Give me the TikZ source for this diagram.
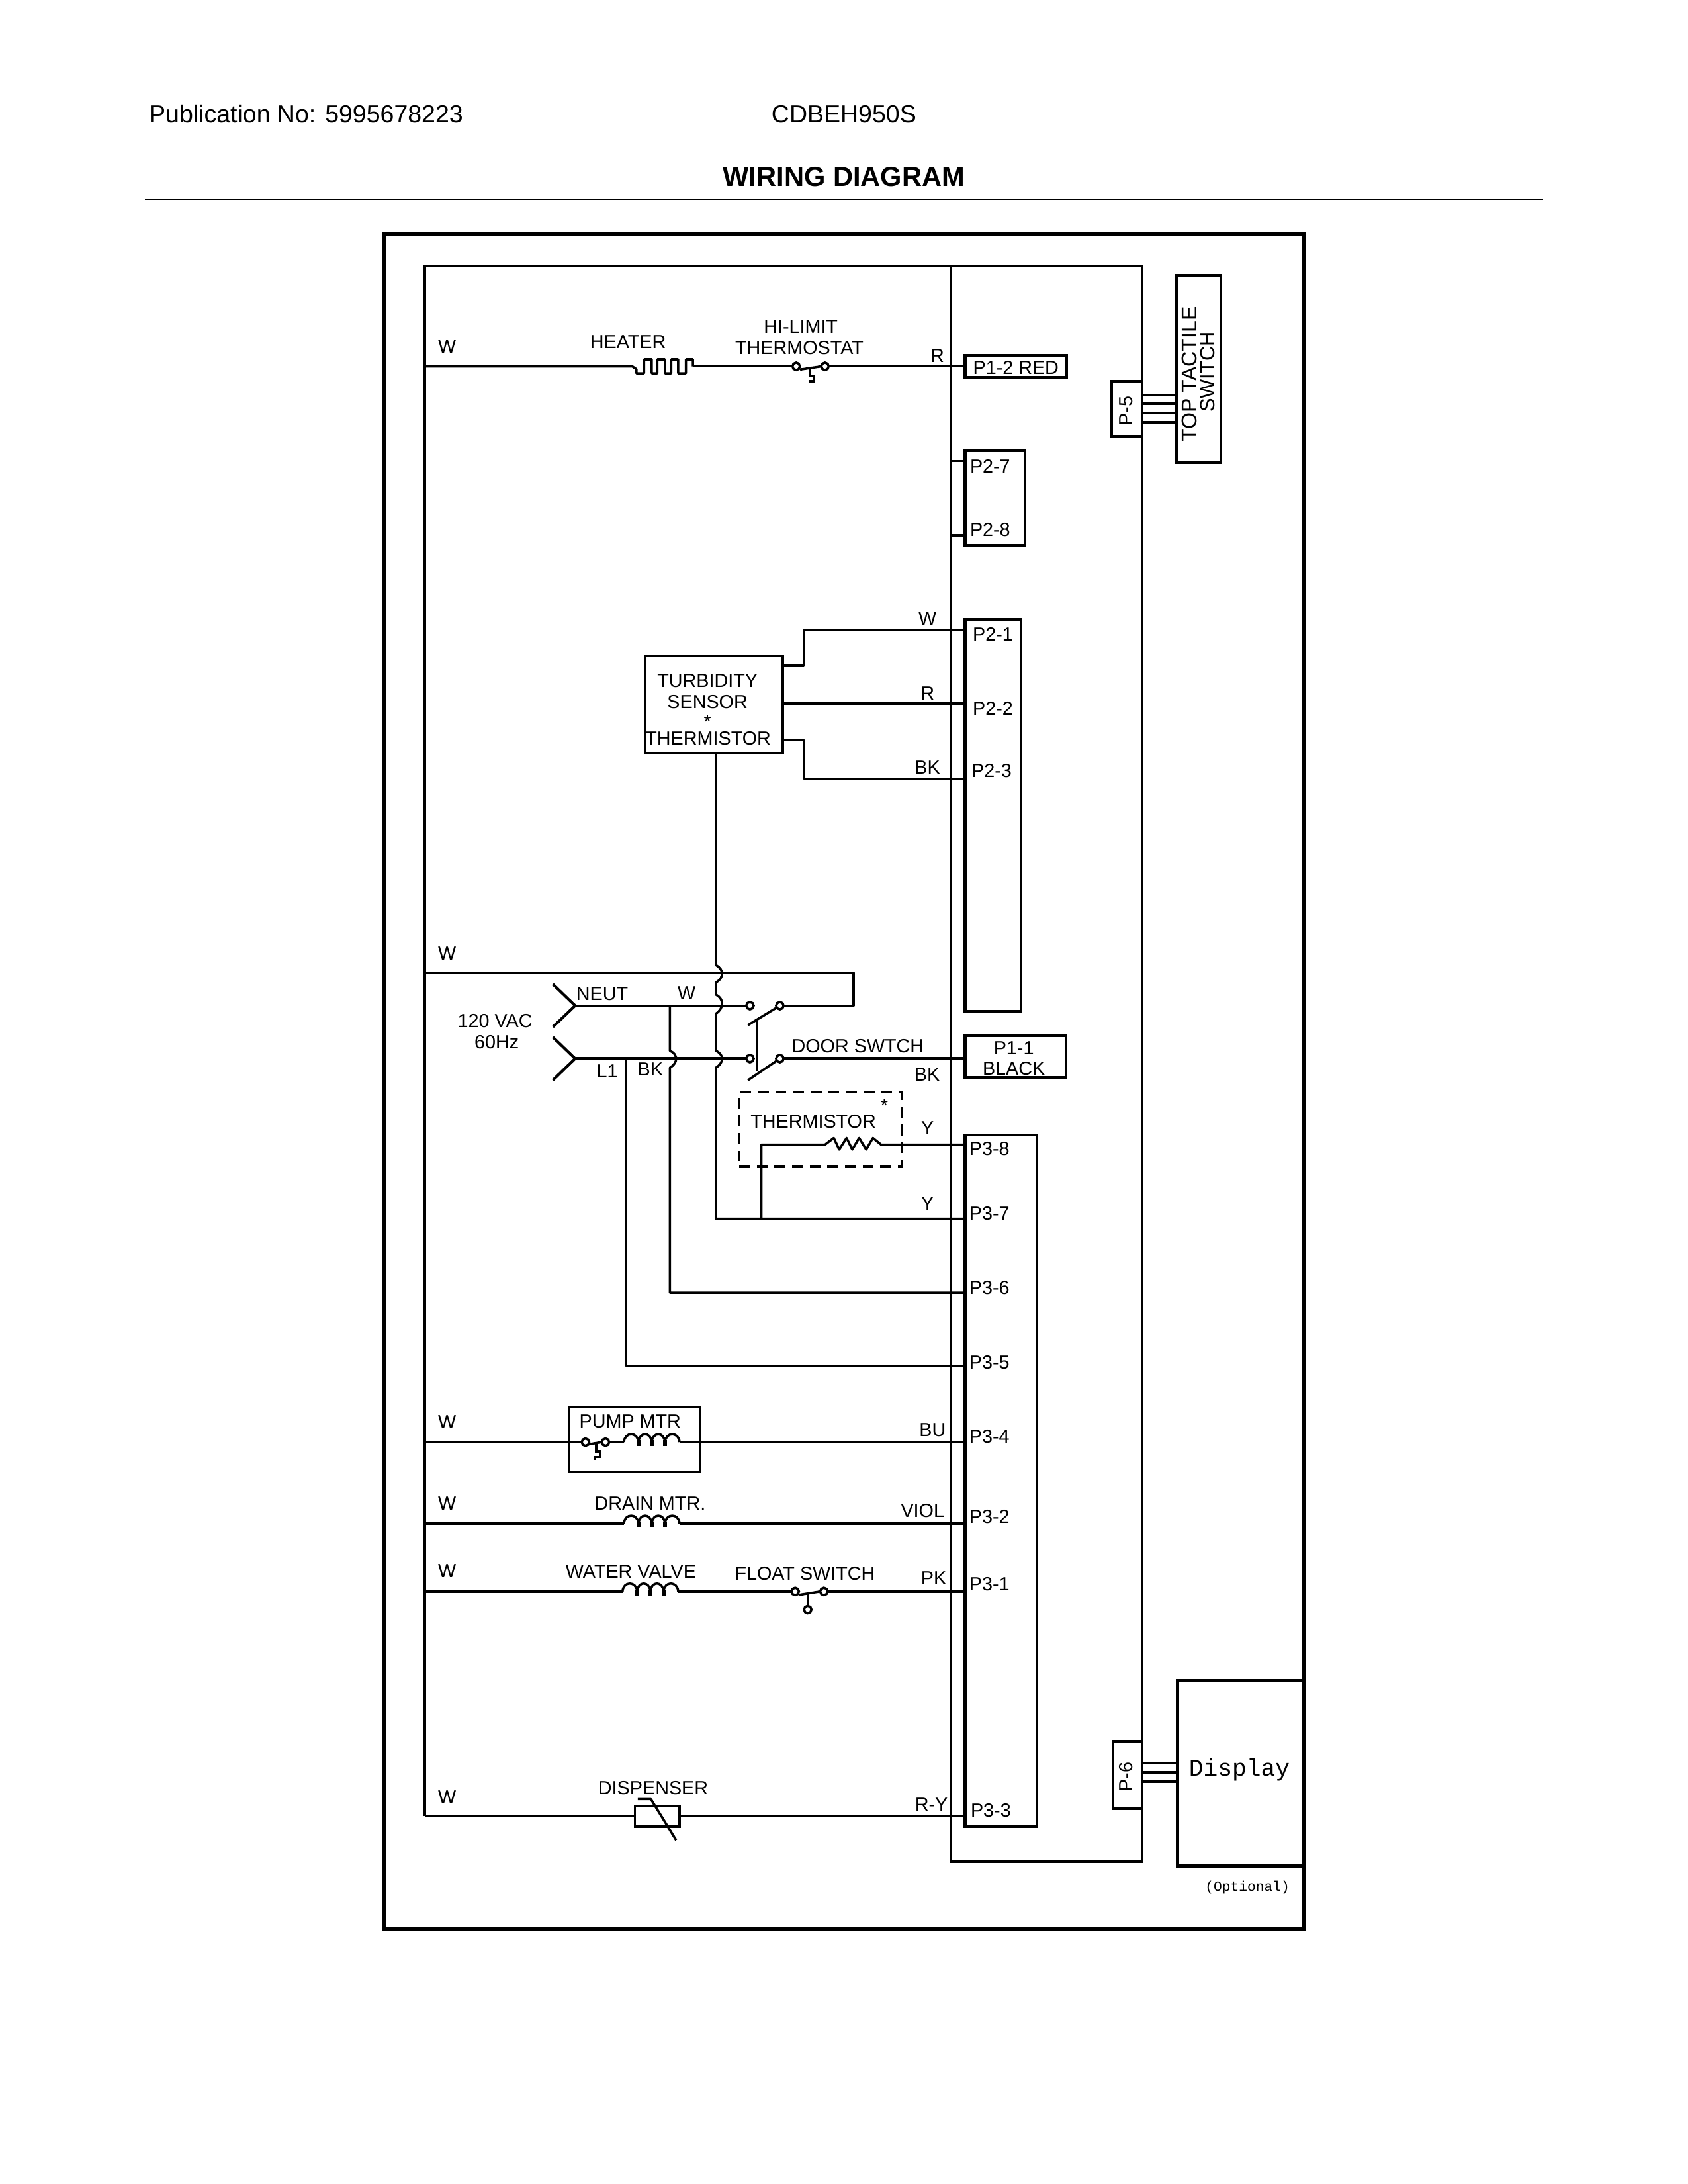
\documentclass[tikz,border=0pt]{standalone}
\usepackage{fontspec}
\setmainfont{Liberation Sans}
\newfontfamily\monof{Liberation Mono}
\usetikzlibrary{fit}
\tikzset{
  wire/.style={line width=0.85bp,line join=round},
  frameline/.style={line width=1.3bp,line join=miter},
  boardline/.style={line width=0.95bp,line join=miter},
  pinbox/.style={draw,line width=1bp,inner sep=0pt,outer sep=0pt,rectangle},
  thinbox/.style={draw,line width=0.85bp,inner sep=0pt,outer sep=0pt,rectangle},
  lbl/.style={inner sep=0pt,outer sep=0pt,font=\fontsize{6.9bp}{8bp}\selectfont},
  pinlbl/.style={lbl},
  hdr/.style={inner sep=0pt,outer sep=0pt,font=\fontsize{9bp}{11bp}\selectfont},
  contact/.style={circle,draw,line width=0.85bp,fill=white,inner sep=0pt,outer sep=0pt,minimum size=2.7bp},
}
\newcommand{\mkbox}[6]{\coordinate (#2a) at (#3,#4); \coordinate (#2b) at (#5,#6); \node[#1,fit=(#2a)(#2b)] (#2) {};}
% coil from x #1 on wire y #2: four humps, three ticks
\newcommand{\coilsym}[2]{%
  \draw[wire] (#1,#2) .. controls ({#1+0.5},{#2-7.6}) and ({#1+10},{#2-7.6}) .. ({#1+10.5},#2)
    .. controls ({#1+11},{#2-7.6}) and ({#1+19.5},{#2-7.6}) .. ({#1+20},#2)
    .. controls ({#1+20.5},{#2-7.6}) and ({#1+29},{#2-7.6}) .. ({#1+29.5},#2)
    .. controls ({#1+30},{#2-7.6}) and ({#1+39.5},{#2-7.6}) .. ({#1+40},#2);
  \foreach \k in {10.5,20,29.5}{\draw[line width=1.5bp] ({#1+\k},{#2-1.5}) -- ({#1+\k},{#2+3});}
}
\begin{document}
\begin{tikzpicture}[x=0.50510bp,y=-0.50510bp]
\useasboundingbox (0,0) rectangle (1211.7,1568);
% header
\node[hdr,anchor=west] (pub) at (107,82) {Publication No: 5995678223};
\node[hdr] (model) at (606,82) {CDBEH950S};
\node[inner sep=0pt,font=\fontsize{10bp}{12bp}\selectfont\bfseries] (title) at (606,127) {WIRING DIAGRAM};
\coordinate (ruleL) at (104,143); \coordinate (ruleR) at (1108,143);
\draw[line width=0.6bp] (ruleL) -- (ruleR);
% frames
\mkbox{draw,line width=1.3bp,inner sep=0pt,outer sep=0pt,rectangle}{outer}{276}{168}{936}{1385}
\coordinate (busTL) at (305,191); \coordinate (brdTR) at (820,191); \coordinate (brdTM) at (683,191);
\coordinate (brdBR) at (820,1336.5); \coordinate (brdBM) at (683,1336.5); \coordinate (busB) at (305,1304);
\draw[boardline] (busB) -- (busTL) -- (brdTR) -- (brdBR) -- (brdBM) -- (brdTM);
% connector boxes
\mkbox{pinbox}{Ptwelve}{693}{255}{766}{271}
\mkbox{pinbox}{Ptwoa}{693}{323.5}{736}{391.5}
\mkbox{pinbox}{Ptwob}{693}{445}{733}{726}
\mkbox{pinbox}{Pone}{693}{743.5}{765.5}{773.4}
\mkbox{pinbox}{Pthree}{693}{815}{744.5}{1311.5}
\mkbox{pinbox}{Pfive}{798}{273.6}{820}{313.5}
\mkbox{pinbox}{Psix}{799}{1250}{820}{1298.5}
\mkbox{pinbox}{Tact}{845}{197.8}{876.5}{332}
\mkbox{draw,line width=1.3bp,inner sep=0pt,outer sep=0pt,rectangle}{Disp}{845.5}{1206.6}{935.8}{1339.8}
\mkbox{thinbox}{Turb}{463.5}{471}{562}{541}
\mkbox{thinbox}{Pump}{408.6}{1010.4}{502.7}{1056.5}
\mkbox{draw,line width=1bp,dash pattern=on 4bp off 2.4bp,inner sep=0pt,outer sep=0pt,rectangle}{Thm}{530.8}{784}{647.6}{837.7}
% labels in boxes
\node[lbl] (t12) at (729.5,264) {P1-2 RED};
\node[pinlbl] (t27) at (711,334.5) {P2-7};
\node[pinlbl] (t28) at (711,380.5) {P2-8};
\node[pinlbl] (t21) at (713,455.5) {P2-1};
\node[pinlbl] (t22) at (713,508.5) {P2-2};
\node[pinlbl] (t23) at (712,553.5) {P2-3};
\node[pinlbl] (t38) at (710.5,824.5) {P3-8};
\node[pinlbl] (t37) at (710.5,871) {P3-7};
\node[pinlbl] (t36) at (710.5,924.5) {P3-6};
\node[pinlbl] (t35) at (710.5,978) {P3-5};
\node[pinlbl] (t34) at (710.5,1031.5) {P3-4};
\node[pinlbl] (t32) at (710.5,1089) {P3-2};
\node[pinlbl] (t31) at (710.5,1137.5) {P3-1};
\node[pinlbl] (t33) at (711.5,1300) {P3-3};
\node[lbl] (t11a) at (728,752.5) {P1-1};
\node[lbl] (t11b) at (728,767) {BLACK};
\node[lbl,rotate=90] (tP5) at (808.5,295) {P-5};
\node[lbl,rotate=90] (tP6) at (808.5,1275.7) {P-6};
\node[inner sep=0pt,rotate=90,font=\fontsize{7.7bp}{9bp}\selectfont] (tTop) at (854,268.7) {TOP TACTILE};
\node[inner sep=0pt,rotate=90,font=\fontsize{7.4bp}{9bp}\selectfont] (tSw) at (867,267) {SWITCH};
\node[inner sep=0pt,font=\monof\fontsize{8.7bp}{10bp}\selectfont] (tDisp) at (890,1270.5) {Display};
\node[inner sep=0pt,font=\monof\fontsize{5.1bp}{6bp}\selectfont] (tOpt) at (895.7,1355) {(Optional)};
% labels
\node[lbl] (w1) at (321,249) {W};
\node[lbl] (heat) at (451,245.5) {HEATER};
\node[lbl] (hil) at (575,234.5) {HI-LIMIT};
\node[lbl] (ths) at (574,249.5) {THERMOSTAT};
\node[lbl] (r1) at (673,255.5) {R};
\node[lbl] (w2) at (666,444) {W};
\node[lbl] (r2) at (666,498) {R};
\node[lbl] (bk2) at (666,551) {BK};
\node[lbl] (tb1) at (508,489) {TURBIDITY};
\node[lbl] (tb2) at (508,504) {SENSOR};
\node[lbl] (tb3) at (508,518) {*};
\node[lbl] (tb4) at (508.5,530) {THERMISTOR};
\node[lbl] (w3) at (321,684.5) {W};
\node[lbl] (neut) at (432.4,713.6) {NEUT};
\node[lbl] (w4) at (493,713) {W};
\node[lbl] (vac) at (355.5,733) {120 VAC};
\node[lbl] (hz) at (356.7,748) {60Hz};
\node[lbl] (l1) at (436,769) {L1};
\node[lbl] (bk3) at (467,767.5) {BK};
\node[lbl] (door) at (616,751) {DOOR SWTCH};
\node[lbl] (bk4) at (665.7,771.5) {BK};
\node[lbl] (thm) at (584,805) {THERMISTOR};
\node[lbl] (st) at (635,794) {*};
\node[lbl] (y1) at (666,810) {Y};
\node[lbl] (y2) at (666,864) {Y};
\node[lbl] (w5) at (321,1021) {W};
\node[lbl] (pm) at (452.5,1020.6) {PUMP MTR};
\node[lbl] (bu) at (669.7,1026.5) {BU};
\node[lbl] (w6) at (321,1079.5) {W};
\node[lbl] (dm) at (466.8,1079.5) {DRAIN MTR.};
\node[lbl] (viol) at (662.5,1084.8) {VIOL};
\node[lbl] (w7) at (321,1128) {W};
\node[lbl] (wv) at (453,1128.5) {WATER VALVE};
\node[lbl] (fs) at (578,1129.5) {FLOAT SWITCH};
\node[lbl] (pk) at (670.5,1133) {PK};
\node[lbl] (w8) at (321,1290.5) {W};
\node[lbl] (dsp) at (469,1283.5) {DISPENSER};
\node[lbl] (ry) at (668.8,1295.5) {R-Y};
% --- heater line
\coordinate (hA) at (305,263); \coordinate (hB) at (454,263); \coordinate (hC) at (497.5,263);
\draw[wire] (hA) -- (hB) -- (457,265) -- (457,268) -- (462.5,268) -- (462.5,258) -- (468,258) -- (468,268) -- (472,268) -- (472,258) -- (477.5,258) -- (477.5,268) -- (482,268) -- (482,258) -- (487,258) -- (487,268) -- (492.5,268) -- (492.5,258) -- (497.5,258) -- (hC);
\node[contact] (hs1) at (571.7,263) {};
\node[contact] (hs2) at (592.4,263) {};
\draw[wire] (hC) -- (hs1);
\draw[wire] (hs2) -- (Ptwelve.west |- hs2);
\draw[wire] (574.5,265.3) -- (hs2.west);
\draw[wire,line join=miter] (581.3,264.5) -- (581.3,269.8) -- (584.4,269.8) -- (584.4,273.6) -- (580.4,273.6);
% P2-7, 8 stubs
\coordinate (s27) at (683,331); \coordinate (s28) at (683,384.5);
\draw[wire] (s27) -- (Ptwoa.west |- s27);
\draw[wire] (s28) -- (Ptwoa.west |- s28);
% turbidity
\coordinate (tA) at (562,478); \coordinate (tAk) at (577,478); \coordinate (tAt) at (577,452);
\draw[wire] (tA) -- (tAk) -- (tAt) -- (Ptwob.west |- tAt);
\coordinate (tR) at (562,505);
\draw[wire] (tR) -- (Ptwob.west |- tR);
\coordinate (tC) at (562,531); \coordinate (tCk) at (577,531); \coordinate (tCt) at (577,559);
\draw[wire] (tC) -- (tCk) -- (tCt) -- (Ptwob.west |- tCt);
% Y wire from turbidity with bumps
\coordinate (yTop) at (514,541); \coordinate (yBot) at (514,875); \coordinate (p37) at (693,875);
\draw[wire] (yTop) -- (514,692.8) .. controls (520,696) and (520,702) .. (514,705.5) -- (514,714) .. controls (520,717) and (520,724) .. (514,727.8) -- (514,754.3) .. controls (520,757) and (520,763) .. (514,766.6) -- (yBot) -- (p37);
% neutral
\coordinate (nBusL) at (305,698.5); \coordinate (nR) at (613,698.5); \coordinate (nD) at (613,722);
\node[contact] (sw1a) at (538.5,722) {};
\node[contact] (sw1b) at (560,722) {};
\node[contact] (sw2a) at (538.5,760) {};
\node[contact] (sw2b) at (560,760) {};
\draw[wire] (nBusL) -- (nR) -- (nD) -- (sw1b);
\coordinate (plN) at (413,722); \coordinate (plL) at (413,760);
\draw[wire,line width=1bp] (397,706.6) -- (plN) -- (397,737.3);
\draw[wire,line width=1bp] (397,744.6) -- (plL) -- (397,775.5);
\draw[wire] (plN) -- (sw1a);
\draw[wire,line width=1bp] (plL) -- (sw2a);
\draw[wire] (537,736) -- (sw1b);
\draw[wire] (537,775.6) -- (sw2b);
\draw[wire] (543.6,732) -- (543.6,769);
\draw[wire,line width=1bp] (sw2b) -- (Pone.west |- sw2b);
% taps
\coordinate (tap6) at (481,722); \coordinate (c6) at (481,928); \coordinate (p36) at (693,928);
\draw[wire] (tap6) -- (481,754.3) .. controls (487,757) and (487,763) .. (481,766.6) -- (c6) -- (p36);
\coordinate (tap5) at (449.7,760); \coordinate (c5) at (449.7,981); \coordinate (p35) at (693,981);
\draw[wire] (tap5) -- (c5) -- (p35);
% thermistor
\coordinate (rL) at (592.4,821.8); \coordinate (rR) at (632.7,821.8); \coordinate (p38) at (693,821.8);
\coordinate (rB) at (546.7,821.8); \coordinate (rBt) at (546.7,875);
\draw[wire] (rBt) -- (rB) -- (rL) -- (598.7,817) -- (602.6,825.3) -- (607.9,817) -- (612,825.3) -- (616.9,817) -- (622,825.3) -- (626.8,817) -- (rR) -- (p38);
% pump
\coordinate (pL) at (305,1035.4); \coordinate (cp1) at (448,1035.4); \coordinate (cp2) at (488,1035.4); \coordinate (p34) at (693,1035.4);
\node[contact] (ps1) at (420.4,1035.4) {};
\node[contact] (ps2) at (434.8,1035.4) {};
\draw[wire] (pL) -- (ps1);
\draw[wire] (422.5,1037) -- (ps2.west);
\draw[wire] (ps2) -- (cp1);
\coilsym{448}{1035.4}
\draw[wire,line width=1bp] (cp2) -- (p34);
\draw[wire,line join=miter] (428,1036.5) -- (428,1042) -- (431,1042) -- (431,1046) -- (427,1046) -- (427,1048);
% drain
\coordinate (dL) at (305,1093.8); \coordinate (d1) at (448,1093.8); \coordinate (d2) at (488,1093.8); \coordinate (p32) at (693,1093.8);
\draw[wire] (dL) -- (d1); \draw[wire] (d2) -- (p32);
\coilsym{448}{1093.8}
% water valve
\coordinate (vL) at (305,1142.6); \coordinate (v1) at (447,1142.6); \coordinate (v2) at (487,1142.6); \coordinate (p31) at (693,1142.6);
\node[contact] (fa) at (571,1142.6) {};
\node[contact] (fb) at (591.6,1142.6) {};
\node[contact] (fc) at (580,1155.5) {};
\draw[wire] (vL) -- (v1); \draw[wire] (v2) -- (fa); \draw[wire] (fb) -- (p31);
\coilsym{447}{1142.6}
\draw[wire] (574,1145) -- (fb.west);
\draw[wire] (580,1144) -- (fc);
% dispenser
\mkbox{thinbox}{Dis}{456}{1297}{488}{1311.5}
\coordinate (dsL) at (305,1304); \coordinate (p33) at (693,1304);
\draw[wire] (dsL) -- (Dis.west |- dsL);
\draw[wire] (Dis.east |- dsL) -- (p33);
\draw[wire] (458,1291.6) -- (467.3,1291.6) -- (485.5,1321);
% board links
\foreach \y in {283.5,290,296.6,303}{\draw[wire,line width=1bp] (Pfive.east |- 0,\y) -- (Tact.west |- 0,\y);}
\foreach \y in {1265.8,1272.5,1279}{\draw[wire,line width=1bp] (Psix.east |- 0,\y) -- (Disp.west |- 0,\y);}
\end{tikzpicture}
\end{document}
